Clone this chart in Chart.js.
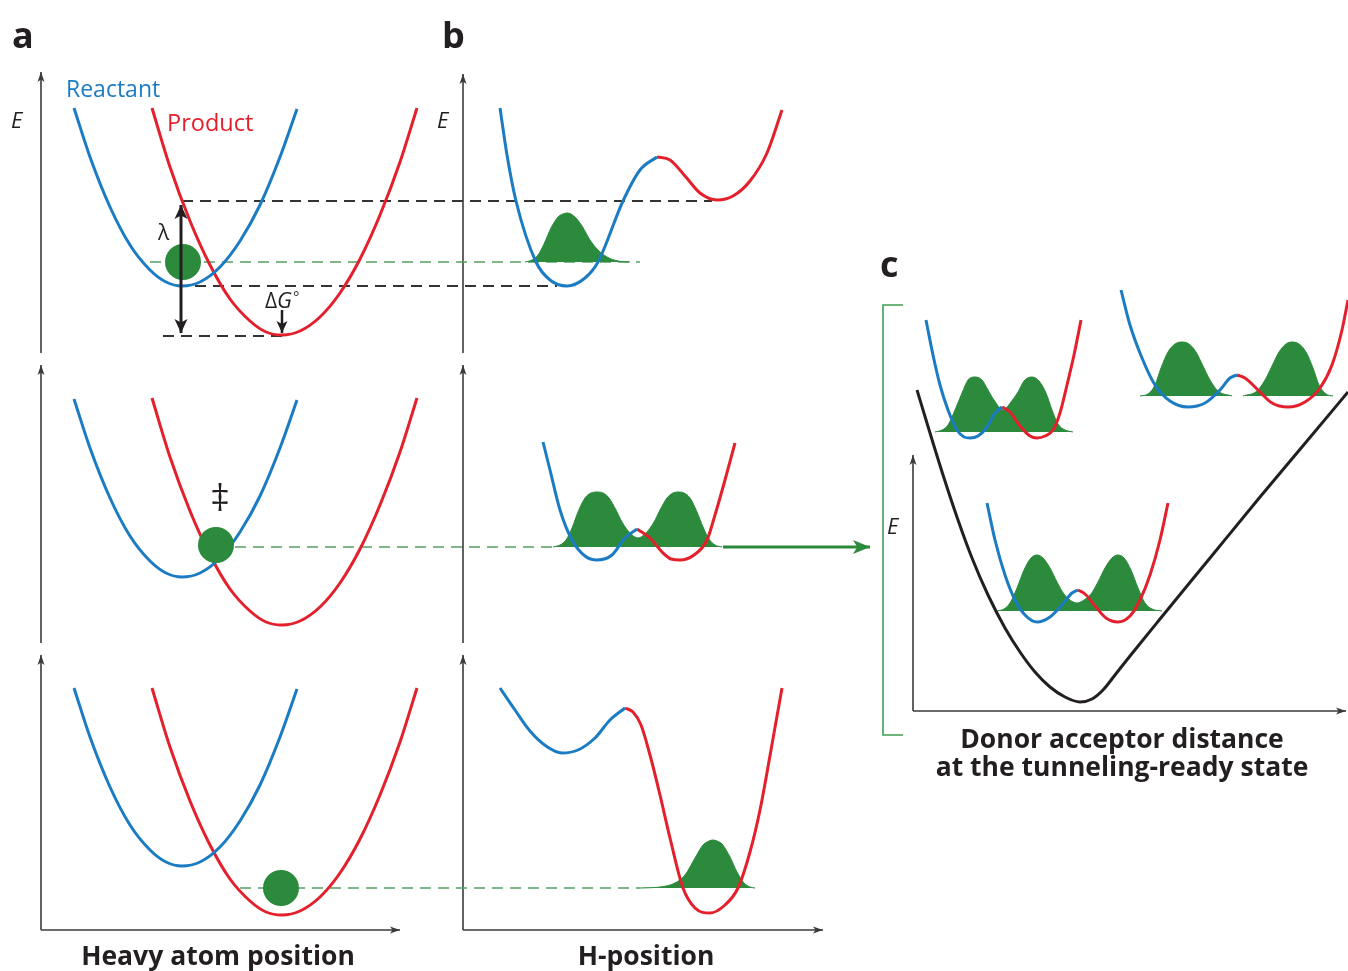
<!DOCTYPE html>
<html>
<head>
<meta charset="utf-8">
<title>Hydrogen tunneling energy diagram</title>
<script src="https://cdn.jsdelivr.net/npm/chart.js@4.4.1/dist/chart.umd.min.js"></script>
<style>
  html, body { margin: 0; padding: 0; background: #fff; }
  #wrap { width: 1348px; height: 971px; }
</style>
</head>
<body>
<div id="wrap"><canvas id="fig" width="1348" height="971"></canvas></div>
<script>
// Figure space: x to the right, y downward, same size as the picture.
// Panel a: heavy atom coordinate wells (reactant / product)
const reactantA1 = [[74,108],[90,157],[110,207],[130,245],[150,270],[166,282],[182,286],[200,282],[220,267],[240,241],[260,205],[280,157],[297,109]];
const reactantA2 = [[74,399],[90,448],[110,498],[130,536],[150,561],[166,573],[182,577],[200,573],[220,558],[240,532],[260,496],[280,448],[297,400]];
const reactantA3 = [[74,688],[90,737],[110,787],[130,825],[150,850],[166,862],[182,866],[200,862],[220,847],[240,821],[260,785],[280,737],[297,689]];
const productA1 = [[152,108],[170,167],[190,221],[210,265],[230,299],[250,321],[266,332],[282,335],[300,331],[320,317],[340,293],[360,259],[380,215],[400,162],[417,108]];
const productA2 = [[152,398],[170,457],[190,511],[210,555],[230,589],[250,611],[266,622],[282,625],[300,621],[320,607],[340,583],[360,549],[380,505],[400,452],[417,398]];
const productA3 = [[152,688],[170,747],[190,801],[210,845],[230,879],[250,901],[266,912],[282,915],[300,911],[320,897],[340,873],[360,839],[380,795],[400,742],[417,688]];
const ballsA = [[183,262],[216,545],[281,888]];

// Panel b: H-position double wells
const reactantB1 = [[500,108],[507,155],[516,201],[536,262],[550,280],[567,286],[585,278],[598,262],[623,201],[640,170],[657,157]];
const productB1 = [[657,157],[670,160],[685,176],[700,193],[717,200],[733,196],[750,181],[767,153],[782,110]];
const waveB1 = [[525,262],[532,260],[538,255],[544,244],[551,228],[558,217],[563,214],[567,213],[571,214],[576,218],[582,226],[590,240],[598,250],[607,257],[618,261],[630,262]];
const reactantB2 = [[543,442],[550,470],[560,510],[572,540],[585,556],[597,560],[612,555],[625,538],[637,529]];
const productB2 = [[637,529],[650,538],[662,552],[671,559],[680,560],[694,555],[707,540],[715,515],[725,480],[735,443]];
const waveB2 = [[553,547],[560,545],[566,540],[572,528],[578,512],[585,498],[591,493],[597,492],[603,493],[609,498],[616,510],[622,522],[630,533],[638,538],[646,533],[654,522],[660,510],[667,498],[673,493],[678,492],[684,493],[690,498],[697,512],[703,527],[709,539],[715,545],[722,547]];
const reactantB3 = [[500,688],[515,710],[530,731],[546,746],[562,753],[578,750],[595,738],[610,720],[625,708]];
const productB3 = [[625,708],[633,712],[641,725],[650,755],[660,795],[670,838],[683,888],[695,908],[710,913],[725,905],[738,888],[750,852],[760,810],[771,750],[782,688]];
const waveB3 = [[640,888],[660,887],[675,883],[685,875],[695,858],[703,845],[709,841],[713,840],[717,841],[722,844],[730,857],[737,872],[744,883],[750,887],[755,888]];

// Panel c: donor-acceptor distance well and three insets
const distanceWell = [[917,390],[930,433],[944,478],[958,520],[972,558],[988,595],[1005,628],[1020,652],[1035,672],[1050,687],[1065,697],[1080,702],[1092,699],[1103,690],[1115,675],[1130,656],[1160,619],[1210,558],[1260,497],[1307,441],[1348,392]];
const reactantC1 = [[926,320],[933,355],[940,385],[948,410],[957,430],[964,437],[970,438],[978,436],[987,427],[995,413],[1002,407]];
const productC1 = [[1002,407],[1010,412],[1020,426],[1030,436],[1037,438],[1045,436],[1053,430],[1060,413],[1067,385],[1074,355],[1081,320]];
const waveC1 = [[935,432],[942,430],[948,425],[955,410],[962,393],[968,380],[975,377],[982,380],[988,390],[994,400],[1003,410],[1011,402],[1018,392],[1024,381],[1032,377],[1039,381],[1046,393],[1052,410],[1058,424],[1065,430],[1073,432]];
const reactantC2 = [[1121,290],[1130,325],[1142,358],[1155,385],[1170,401],[1188,407],[1205,403],[1220,390],[1230,378],[1237,375]];
const productC2 = [[1237,375],[1245,378],[1258,390],[1272,403],[1288,407],[1305,402],[1320,388],[1332,365],[1342,330],[1348,300]];
const waveC2L = [[1140,396],[1148,394],[1155,385],[1161,368],[1168,352],[1175,344],[1182,342],[1189,344],[1196,352],[1203,366],[1210,380],[1218,391],[1232,396]];
const waveC2R = [[1243,396],[1257,391],[1265,380],[1272,366],[1279,352],[1286,344],[1292,342],[1299,344],[1306,352],[1313,368],[1319,385],[1326,394],[1333,396]];
const reactantC3 = [[987,503],[995,540],[1005,575],[1015,600],[1025,615],[1037,622],[1050,617],[1062,605],[1072,593],[1078,590]];
const productC3 = [[1078,590],[1085,594],[1095,606],[1106,618],[1118,622],[1130,616],[1140,600],[1150,575],[1160,540],[1168,503]];
const waveC3 = [[997,611],[1004,609],[1010,603],[1017,588],[1024,570],[1031,558],[1037,555],[1043,558],[1050,568],[1057,582],[1064,594],[1070,600],[1077,603],[1084,600],[1091,594],[1098,582],[1105,568],[1112,558],[1118,555],[1124,558],[1131,570],[1138,588],[1145,603],[1152,609],[1162,611]];

// energy levels carried across panels
const levelTop = [[182,201],[712,201]];
const levelReactant = [[195,286],[557,286]];
const levelProduct = [[163,336],[282,336]];
const levelGreen1 = [[150,262],[640,262]];
const levelGreen2 = [[235,547],[553,547]];
const levelGreen3 = [[240,888],[640,888]];
const lambdaArrow = [[181,205],[181,333]];
const dGArrow = [[282,310],[282,333]];
const tunnelArrow = [[723,547],[870,547]];

// axes
const axesUp = [
  [[41,353],[41,72]], [[41,643],[41,365]], [[41,930],[41,655]],
  [[463,353],[463,74]], [[463,643],[463,365]], [[463,930],[463,655]],
  [[913,711],[913,455]]
];
const axesRight = [[[41,930],[400,930]], [[463,930],[823,930]], [[913,711],[1346,711]]];
const bracketC = [[903,305],[883,305],[883,735],[903,735]];

const BLUE = '#1b7cc3', RED = '#e3202c', GREEN = '#2b8a3b', GREEN_DASH = '#55a062', INK = '#231f20', AXIS = '#3a3a3a';
const SANS = '"Open Sans", "DejaVu Sans", sans-serif';

const figureLabels = [
  { text: 'a', x: 12, y: 48, font: `bold 36px ${SANS}`, color: INK },
  { text: 'b', x: 442, y: 48, font: `bold 36px ${SANS}`, color: INK },
  { text: 'c', x: 880, y: 277, font: `bold 36px ${SANS}`, color: INK },
  { text: 'Reactant', x: 66, y: 97, font: `23px ${SANS}`, color: BLUE },
  { text: 'Product', x: 167, y: 131, font: `23.5px ${SANS}`, color: RED },
  { text: 'E', x: 11, y: 128, font: `italic 22px ${SANS}`, color: INK },
  { text: 'E', x: 437, y: 128, font: `italic 22px ${SANS}`, color: INK },
  { text: 'E', x: 887, y: 534, font: `italic 22px ${SANS}`, color: INK },
  { text: 'λ', x: 158, y: 240, font: `21px ${SANS}`, color: INK },
  { text: 'Δ', x: 265, y: 308, font: `21px ${SANS}`, color: INK },
  { text: 'G', x: 277, y: 308, font: `italic 22px ${SANS}`, color: INK },
  { text: '°', x: 293, y: 302, font: `15px ${SANS}`, color: INK },
  { text: '‡', x: 220, y: 508, font: `34px "DejaVu Serif", serif`, color: INK, align: 'center' },
  { text: 'Heavy atom position', x: 218, y: 965, font: `bold 26.5px ${SANS}`, color: INK, align: 'center' },
  { text: 'H-position', x: 646, y: 965, font: `bold 26.5px ${SANS}`, color: INK, align: 'center' },
  { text: 'Donor acceptor distance', x: 1122, y: 748, font: `bold 26.5px ${SANS}`, color: INK, align: 'center' },
  { text: 'at the tunneling-ready state', x: 1122, y: 776, font: `bold 26.5px ${SANS}`, color: INK, align: 'center' }
];

const toPts = arr => arr.map(([x, y]) => ({ x, y }));

const line = (pts, color, width, extra = {}) => ({
  data: toPts(pts), showLine: true, borderColor: color, borderWidth: width,
  pointRadius: 0, pointHoverRadius: 0, tension: 0, fill: false, order: 2, ...extra
});
const curve = (pts, color) => line(pts, color, 3, { cubicInterpolationMode: 'monotone', order: 2 });
const wave = pts => line(pts, GREEN, 1, {
  cubicInterpolationMode: 'monotone', fill: { value: pts[0][1] }, backgroundColor: GREEN, order: 3
});
const dashed = (pts, color, width) => line(pts, color, width, { borderDash: [11, 7], order: 4 });

const datasets = [
  // arrows on top
  line(lambdaArrow, INK, 3, { arrowStart: true, arrowEnd: true, arrowLen: 14, arrowWidth: 13, order: 0 }),
  line(dGArrow, INK, 2.5, { arrowEnd: true, arrowLen: 12, arrowWidth: 11, order: 0 }),
  line(tunnelArrow, GREEN, 3, { arrowEnd: true, arrowLen: 17, arrowWidth: 14, order: 0 }),
  {
    data: toPts(ballsA), showLine: false, pointRadius: 18, pointHoverRadius: 18,
    pointBackgroundColor: GREEN, pointBorderWidth: 0, order: 1
  },
  curve(reactantA1, BLUE), curve(productA1, RED),
  curve(reactantA2, BLUE), curve(productA2, RED),
  curve(reactantA3, BLUE), curve(productA3, RED),
  curve(reactantB1, BLUE), curve(productB1, RED),
  curve(reactantB2, BLUE), curve(productB2, RED),
  curve(reactantB3, BLUE), curve(productB3, RED),
  curve(reactantC1, BLUE), curve(productC1, RED),
  curve(reactantC2, BLUE), curve(productC2, RED),
  curve(reactantC3, BLUE), curve(productC3, RED),
  line(distanceWell, INK, 3, { cubicInterpolationMode: 'monotone' }),
  wave(waveB1), wave(waveB2), wave(waveB3),
  wave(waveC1), wave(waveC2L), wave(waveC2R), wave(waveC3),
  dashed(levelTop, '#333', 2), dashed(levelReactant, '#333', 2), dashed(levelProduct, '#333', 2),
  dashed(levelGreen1, GREEN_DASH, 1.6), dashed(levelGreen2, GREEN_DASH, 1.6), dashed(levelGreen3, GREEN_DASH, 1.6),
  line(bracketC, '#3f9d50', 1.6, { order: 5 }),
  ...axesUp.map(a => line(a, AXIS, 1.6, { arrowEnd: true, arrowLen: 10, arrowWidth: 7, order: 5 })),
  ...axesRight.map(a => line(a, AXIS, 1.6, { arrowEnd: true, arrowLen: 10, arrowWidth: 7, order: 5 }))
];

function drawHead(ctx, from, to, len, width, color) {
  const ang = Math.atan2(to.y - from.y, to.x - from.x);
  const bx = to.x - len * Math.cos(ang), by = to.y - len * Math.sin(ang);
  const px = -Math.sin(ang) * width / 2, py = Math.cos(ang) * width / 2;
  ctx.beginPath();
  ctx.moveTo(to.x, to.y);
  ctx.lineTo(bx + px, by + py);
  ctx.lineTo(bx + len * 0.25 * Math.cos(ang), by + len * 0.25 * Math.sin(ang));
  ctx.lineTo(bx - px, by - py);
  ctx.closePath();
  ctx.fillStyle = color;
  ctx.fill();
}

const arrowPlugin = {
  id: 'arrowHeads',
  afterDatasetsDraw(chart) {
    const ctx = chart.ctx;
    chart.data.datasets.forEach((ds, i) => {
      if (!ds.arrowEnd && !ds.arrowStart) return;
      const pts = chart.getDatasetMeta(i).data;
      const n = pts.length;
      ctx.save();
      if (ds.arrowEnd) drawHead(ctx, pts[n - 2], pts[n - 1], ds.arrowLen, ds.arrowWidth, ds.borderColor);
      if (ds.arrowStart) drawHead(ctx, pts[1], pts[0], ds.arrowLen, ds.arrowWidth, ds.borderColor);
      ctx.restore();
    });
  }
};

const labelPlugin = {
  id: 'figureLabels',
  afterDraw(chart) {
    const { ctx, scales: { x, y } } = chart;
    figureLabels.forEach(l => {
      ctx.save();
      ctx.font = l.font;
      ctx.fillStyle = l.color;
      ctx.textAlign = l.align || 'left';
      ctx.textBaseline = 'alphabetic';
      ctx.fillText(l.text, x.getPixelForValue(l.x), y.getPixelForValue(l.y));
      ctx.restore();
    });
  }
};

new Chart(document.getElementById('fig'), {
  type: 'scatter',
  data: { datasets },
  options: {
    responsive: false,
    animation: false,
    events: [],
    layout: { padding: 0, autoPadding: false },
    plugins: { legend: { display: false }, tooltip: { enabled: false } },
    scales: {
      x: { type: 'linear', min: 0, max: 1348, display: false },
      y: { type: 'linear', min: 0, max: 971, reverse: true, display: false }
    }
  },
  plugins: [arrowPlugin, labelPlugin]
});
</script>
</body>
</html>
